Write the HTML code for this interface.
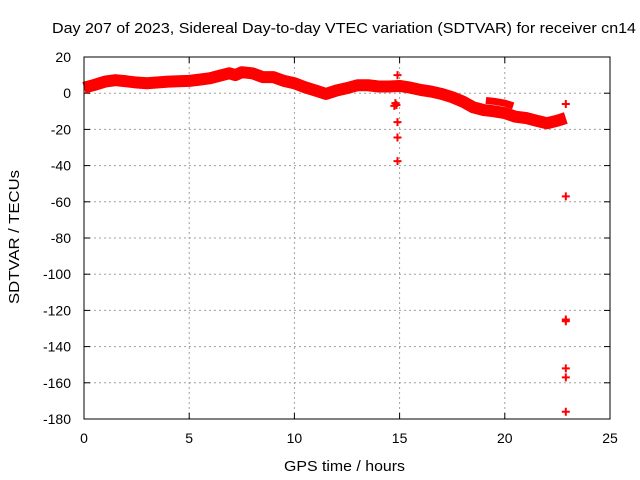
<!DOCTYPE html>
<html><head><meta charset="utf-8"><style>
body{margin:0;background:#fff;}
svg{display:block;font-family:"Liberation Sans",sans-serif;}
</style></head><body>
<svg id="chart" width="640" height="480">
<text x="52" y="33" font-size="15" textLength="584" lengthAdjust="spacingAndGlyphs">Day 207 of 2023, Sidereal Day-to-day VTEC variation (SDTVAR) for receiver cn14</text>
<g id="grid"></g>
<g id="ticks"></g>
<g id="series"></g>
<rect x="84" y="57" width="526" height="362" fill="none" stroke="#000" stroke-width="1"/>
<text x="284" y="471" font-size="15" textLength="121" lengthAdjust="spacingAndGlyphs">GPS time / hours</text>
<text transform="translate(19,304) rotate(-90)" font-size="15" textLength="134" lengthAdjust="spacingAndGlyphs">SDTVAR / TECUs</text>
</svg>
<script>
const xTicks=[0,5,10,15,20,25];
const yTicks=[20,0,-20,-40,-60,-80,-100,-120,-140,-160,-180];
const bandTimes=[0,0.5,1,1.5,2,2.5,3,4,5,5.5,6,6.5,6.9,7.2,7.5,8,8.5,9,9.5,10,10.5,11,11.5,12,12.5,13,13.5,14,14.5,15,15.5,16,16.5,17,17.5,18,18.5,19,19.5,20,20.5,21,21.5,22,22.5,22.9];
const bandValues=[3,4.6,6.4,7.2,6.6,5.9,5.5,6.4,6.8,7.5,8.3,9.8,11,10,11.6,11,8.9,8.9,6.8,5.5,3.3,1.5,-0.4,1.5,2.8,4.4,4.4,3.7,3.7,4,3.1,1.8,0.9,-0.4,-2.2,-4.6,-7.8,-9.3,-10,-11,-13,-13.7,-15.2,-16.6,-15.2,-13.7];
const branchTimes=[19.1,19.5,20,20.4];
const branchValues=[-4,-4.5,-5.5,-7];
const outlierTimes=[14.75,14.8,14.85,14.9,14.9,14.9,14.9,22.9,22.9,22.9,22.9,22.9,22.9,22.9];
const outlierValues=[-7,-5.5,-6.5,10,-16,-24.5,-37.5,-6,-57,-125,-126,-152,-157,-176];
const NS="http://www.w3.org/2000/svg";
const X=t=>84+t*(526/25);
const Y=v=>57+(20-v)*(362/200);
function mk(tag,attrs,parent){const e=document.createElementNS(NS,tag);for(const k in attrs)e.setAttribute(k,attrs[k]);parent.appendChild(e);return e;}
const grid=document.getElementById('grid'),ticks=document.getElementById('ticks'),series=document.getElementById('series');
xTicks.forEach(t=>{
  if(t>0&&t<25){const l=mk('line',{x1:X(t),x2:X(t),y1:57,y2:419,stroke:'#a0a0a0','stroke-dasharray':'2,3'},grid);
  
  }
  mk('line',{x1:X(t),x2:X(t),y1:419,y2:413,stroke:'#000'},ticks);
  mk('line',{x1:X(t),x2:X(t),y1:57,y2:63,stroke:'#000'},ticks);
  const tx=mk('text',{x:X(t),y:443,'font-size':14,'text-anchor':'middle'},ticks);tx.textContent=t;
  
  
});
yTicks.forEach(v=>{
  if(v<20&&v>-180){const l=mk('line',{x1:84,x2:610,y1:Y(v),y2:Y(v),stroke:'#a0a0a0','stroke-dasharray':'2,3'},grid);
  
  }
  mk('line',{x1:84,x2:90,y1:Y(v),y2:Y(v),stroke:'#000'},ticks);
  mk('line',{x1:604,x2:610,y1:Y(v),y2:Y(v),stroke:'#000'},ticks);
  const tx=mk('text',{x:71,y:Y(v)+5,'font-size':14,'text-anchor':'end'},ticks);tx.textContent=v;
  
  
});
const band=mk('polyline',{points:bandTimes.map((t,i)=>X(t)+','+Y(bandValues[i])).join(' '),fill:'none',stroke:'#f00','stroke-width':12,'stroke-linejoin':'round'},series);


const br=mk('polyline',{points:branchTimes.map((t,i)=>X(t)+','+Y(branchValues[i])).join(' '),fill:'none',stroke:'#f00','stroke-width':7},series);


outlierTimes.forEach((t,i)=>{
  const x=X(t),y=Y(outlierValues[i]);
  const p=mk('path',{d:`M${x-4} ${y}H${x+4}M${x} ${y-4}V${y+4}`,stroke:'#f00','stroke-width':2,fill:'none'},series);
  
  
});
</script>
</body></html>
